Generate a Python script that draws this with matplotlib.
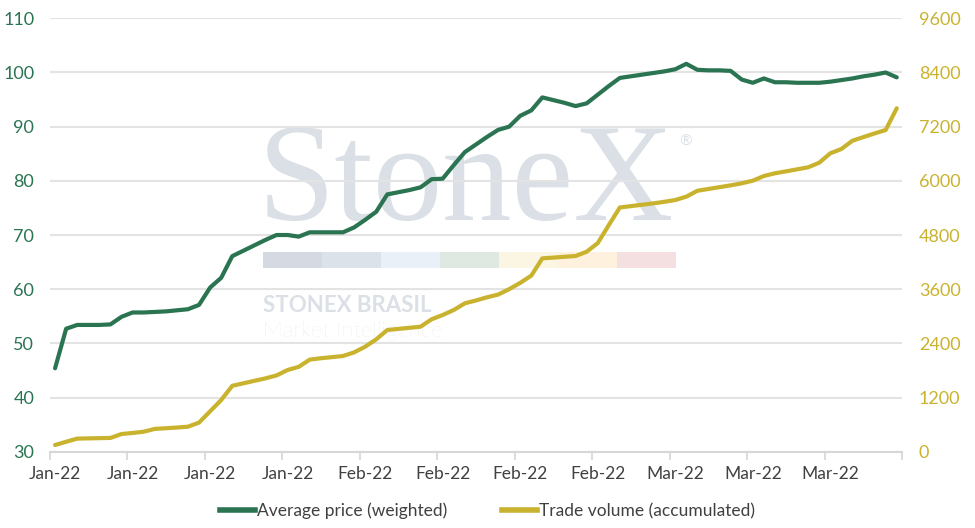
import numpy as np
import matplotlib
matplotlib.use("Agg")
import matplotlib.pyplot as plt
from matplotlib.patches import Rectangle
from matplotlib.lines import Line2D

plt.rcParams['font.family'] = ['Lato', 'DejaVu Sans']

# Weighted average price (left axis)
price = [45.4, 52.7, 53.4, 53.4, 53.4, 53.5, 54.9, 55.7, 55.7, 55.8,
         55.9, 56.1, 56.3, 57.1, 60.3, 62.1, 66.1, 67.1, 68.1, 69.1,
         70.0, 70.0, 69.7, 70.5, 70.5, 70.5, 70.5, 71.4, 72.8, 74.3,
         77.5, 77.9, 78.3, 78.8, 80.3, 80.4, 82.9, 85.3, 86.7, 88.1,
         89.4, 90.0, 92.0, 93.0, 95.4, 94.9, 94.4, 93.8, 94.3, 95.9,
         97.5, 99.0, 99.3, 99.6, 99.9, 100.2, 100.6, 101.6, 100.5, 100.4,
         100.4, 100.3, 98.7, 98.1, 98.9, 98.2, 98.2, 98.1, 98.1, 98.1,
         98.3, 98.6, 98.9, 99.3, 99.6, 100.0, 99.1]

# Accumulated trade volume (right axis)
volume = [148, 220, 290, 295, 300, 305, 392, 415, 443, 505,
          520, 535, 554, 645, 895, 1145, 1460, 1515, 1570, 1625,
          1690, 1810, 1880, 2040, 2070, 2095, 2120, 2200, 2326, 2490,
          2696, 2720, 2745, 2769, 2933, 3028, 3139, 3287, 3350, 3420,
          3480, 3600, 3740, 3900, 4283, 4300, 4318, 4335, 4430, 4620,
          5020, 5410, 5440, 5470, 5500, 5535, 5575, 5650, 5780, 5820,
          5860, 5900, 5945, 6003, 6107, 6167, 6210, 6255, 6300, 6402,
          6610, 6705, 6889, 6970, 7050, 7126, 7607]

tick_labels = ['Jan-22', 'Jan-22', 'Jan-22', 'Jan-22', 'Feb-22', 'Feb-22',
               'Feb-22', 'Feb-22', 'Mar-22', 'Mar-22', 'Mar-22']
label_step = 7

GREEN = '#2a7452'
GOLD = '#c9b32e'
GRID = '#e3e3e3'
WM = '#dbe0e7'

fig = plt.figure(figsize=(9.75, 5.28), dpi=100)
ax = fig.add_axes([0.0508, 0.1445, 0.8746, 0.8208])
ax2 = ax.twinx()

x = np.arange(len(price))
ax.plot(x, price, color=GREEN, lw=3, zorder=3, solid_capstyle='round',
        label='Average price (weighted)')
ax2.plot(x, volume, color=GOLD, lw=3, zorder=3, solid_capstyle='round',
         label='Trade volume (accumulated)')

ax.set_xlim(-0.5, len(price) - 0.5)
ax.set_ylim(30, 110)
ax.set_yticks(np.arange(30, 111, 10))
ax2.set_ylim(0, 9600)
ax2.set_yticks(np.arange(0, 9601, 1200))

# category style x axis: ticks between groups, labels on first point of group
ax.set_xticks(np.arange(-0.5, len(price), label_step))
ax.set_xticklabels([])
ax.set_xticks(np.arange(0, label_step * len(tick_labels), label_step), minor=True)
ax.set_xticklabels(tick_labels, minor=True)
ax.tick_params(axis='x', which='major', length=6, width=1.2, color='#d6d6d6')
ax.tick_params(axis='x', which='minor', length=0, pad=10, labelsize=12.5,
               labelcolor='#404040')

ax.tick_params(axis='y', length=0, pad=11, labelsize=13, labelcolor=GREEN)
ax2.tick_params(axis='y', length=0, pad=12, labelsize=13, labelcolor=GOLD)

for a in (ax, ax2):
    for s in ['top', 'left', 'right', 'bottom']:
        a.spines[s].set_visible(False)
ax.spines['bottom'].set_visible(True)
ax.spines['bottom'].set_color('#d6d6d6')
ax.spines['bottom'].set_linewidth(1.5)

ax.grid(axis='y', color=GRID, lw=1.5)
ax.set_axisbelow(True)

# watermark
ax.text(258 / 975, 1 - 220 / 528, 'StoneX', transform=fig.transFigure,
        family='Liberation Serif', fontsize=100, color=WM, ha='left',
        va='baseline', zorder=0.2)
ax.text(686 / 975, 1 - 142 / 528, '®', transform=fig.transFigure, fontsize=11,
        color=WM, ha='center', va='center', zorder=0.2)
bar_cols = ['#d5d9e2', '#dce2ea', '#e9f0f8', '#dfe9e2', '#fbf6e4', '#fef1dd', '#f4dfe1']
for k, c in enumerate(bar_cols):
    ax.add_patch(Rectangle(((263 + 59 * k) / 975, 1 - 268 / 528), 59 / 975, 16 / 528,
                           transform=fig.transFigure, facecolor=c, edgecolor='none',
                           zorder=0.2, clip_on=False))
ax.text(263 / 975, 1 - 312 / 528, 'STONEX BRASIL', transform=fig.transFigure,
        fontsize=16, fontweight='bold', color=WM, ha='left', va='baseline', zorder=0.2)
ax.text(263 / 975, 1 - 337 / 528, 'Market Intelligence', transform=fig.transFigure,
        fontsize=16, fontweight='light', color=WM, ha='left', va='baseline', zorder=0.2)

handles = [Line2D([], [], color=GREEN, lw=4), Line2D([], [], color=GOLD, lw=4)]
fig.legend(handles, ['Average price (weighted)', 'Trade volume (accumulated)'],
           loc='center', bbox_to_anchor=(0.5, 1 - 511 / 528), ncol=2, frameon=False,
           fontsize=12.5, handlelength=2.0, handletextpad=0.1, columnspacing=3.2,
           labelcolor='#404040')

fig.savefig('out.png', dpi=100)
